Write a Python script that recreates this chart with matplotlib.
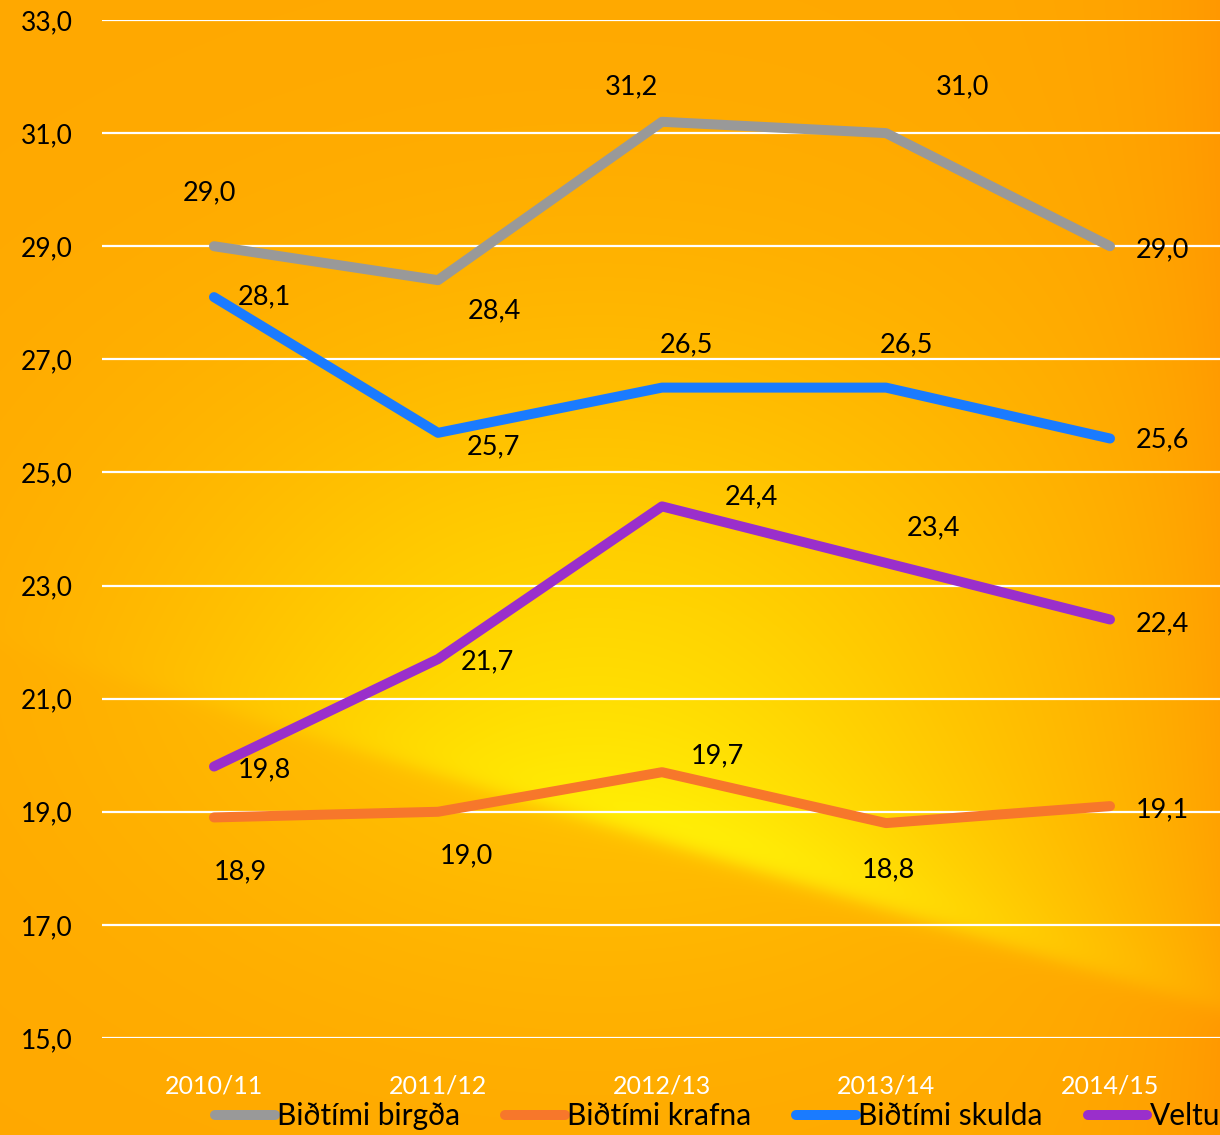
import numpy as np
import matplotlib
matplotlib.use("Agg")
import matplotlib.pyplot as plt

plt.rcParams['font.family'] = ['Lato', 'DejaVu Sans']

# -- data --
years = ["2010/11", "2011/12", "2012/13", "2013/14", "2014/15"]
labels = ["Biðtími birgða", "Biðtími krafna", "Biðtími skulda", "Veltufjárbinding"]
birgda = [29.0, 28.4, 31.2, 31.0, 29.0]
krafna = [18.9, 19.0, 19.7, 18.8, 19.1]
skulda = [28.1, 25.7, 26.5, 26.5, 25.6]
veltu = [19.8, 21.7, 24.4, 23.4, 22.4]
yticks = [15, 17, 19, 21, 23, 25, 27, 29, 31, 33]

colors = ["#999999", "#F7772B", "#1A7BFF", "#9A2FCB"]

# label offsets (pixels) for each data label
off_birgda = [(-5, 53), (56, -31), (-31, 35), (76, 46), (52, -4)]
off_krafna = [(26, -54), (28, -44), (55, 16), (2, -47), (52, -4)]
off_skulda = [(50, 0), (55, -14), (24, 43), (20, 43), (52, -1)]
off_veltu = [(50, -3), (49, -3), (89, 10), (48, 35), (52, -4)]

W, H = 1220, 1135
fig = plt.figure(figsize=(W/100, H/100), dpi=100)

# -- background --
X, Y = np.meshgrid(np.arange(W), np.arange(H))
d = (642 + 0.3*X) - Y
G = 168 + 30*np.exp(-((X-600)/480.)**2 - ((Y-640)/340.)**2)
edge = 1/(1+np.exp(-d/6.))
G = G + 56*edge*np.exp(-np.clip(d, 0, None)/180.)*np.exp(-((X-740)/430.)**2)
G = G - 16*np.exp(-(W-X)/90.)
G = np.clip(G, 0, 255)
R = np.full_like(G, 255.)
B = np.clip(8*edge*np.exp(-np.clip(d, 0, None)/120.)*np.exp(-((X-760)/280.)**2), 0, 255)
img = np.dstack([R, G, B])/255.
bg = fig.add_axes([0, 0, 1, 1])
bg.imshow(img, aspect='auto')
bg.axis("off")

# -- main chart --
ax = fig.add_axes([102/W, 1-1038/H, 1-102/W, (1038-20)/H])
ax.patch.set_alpha(0)
x = np.arange(len(years))
series = [birgda, krafna, skulda, veltu]
offsets = [off_birgda, off_krafna, off_skulda, off_veltu]
for s, c, lab, offs in zip(series, colors, labels, offsets):
    ax.plot(x, s, color=c, lw=7.2, solid_capstyle='round', label=lab, zorder=3)
    for xi, v, o in zip(x, s, offs):
        ax.annotate(("%.1f" % v).replace(".", ","), (xi, v), xytext=o,
                    textcoords='offset pixels', ha='center', va='center',
                    fontsize=19.5, color='black', zorder=4)

ax.set_xlim(-0.5, -0.5 + (W-102)/224.)
ax.set_ylim(15, 33)
ax.set_yticks(yticks)
ax.set_yticklabels([("%.1f" % t).replace(".", ",") for t in yticks], fontsize=19)
ax.set_xticks(x)
ax.set_xticklabels(years, fontsize=18, color='white')
ax.tick_params(length=0)
ax.tick_params(axis='y', pad=21)
ax.tick_params(axis='x', pad=26)
ax.grid(axis='y', color='white', lw=1.6)
ax.set_axisbelow(True)
for sp in ax.spines.values():
    sp.set_visible(False)

fig.legend(loc='center left', bbox_to_anchor=(215/W, 1-1116/H), ncol=4,
           frameon=False, fontsize=21.5, handlelength=2.0, handletextpad=0.08,
           columnspacing=1.5, borderpad=0, borderaxespad=0)

fig.savefig("out.png", dpi=100)
